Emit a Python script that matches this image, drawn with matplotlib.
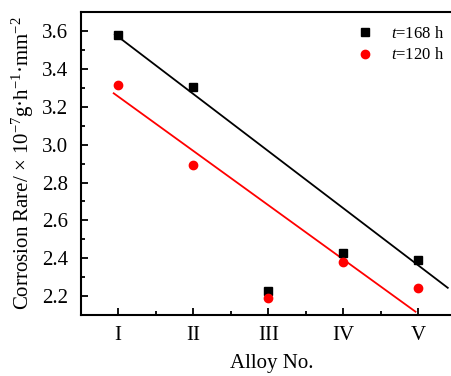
import matplotlib
matplotlib.use("Agg")
import matplotlib.pyplot as plt
from matplotlib.ticker import MultipleLocator

plt.rcParams['font.family'] = ['Liberation Serif', 'DejaVu Serif']
plt.rcParams['mathtext.fontset'] = 'custom'
plt.rcParams['mathtext.rm'] = 'Liberation Serif'
plt.rcParams['mathtext.it'] = 'Liberation Serif:italic'

alloys = [1, 2, 3, 4, 5]
alloy_labels = ['I', 'II', 'III', 'IV', 'V']
rate_168 = [3.577, 3.303, 2.228, 2.428, 2.389]
rate_120 = [3.313, 2.893, 2.192, 2.379, 2.243]
# fitted lines, end points
fit_168_x = [0.955, 5.39]
fit_168_y = [3.583, 2.244]
fit_120_x = [0.94, 4.96]
fit_120_y = [3.271, 2.118]

fig = plt.figure(figsize=(4.52, 3.76), dpi=100)
# right edge of the axes runs past the picture, as in the cropped original
ax = fig.add_axes([0.1785, 0.162, 0.847, 0.806])

ax.plot(fit_168_x, fit_168_y, color='black', lw=1.3)
ax.plot(fit_120_x, fit_120_y, color='red', lw=1.3)
ax.plot(alloys, rate_168, 's', color='black', ms=5.5, label='$t$=168 h')
ax.plot(alloys, rate_120, 'o', color='red', ms=6, label='$t$=120 h')

ax.set_xlim(0.5, 5.6)
ax.set_ylim(2.1, 3.7)
ax.set_xticks(alloys)
ax.set_xticklabels(alloy_labels)
ax.xaxis.set_minor_locator(MultipleLocator(0.5))
ax.yaxis.set_major_locator(MultipleLocator(0.2))
ax.yaxis.set_minor_locator(MultipleLocator(0.1))
ax.yaxis.set_major_formatter(matplotlib.ticker.FormatStrFormatter('%.1f'))
ax.tick_params(which='both', direction='in', labelsize=15, width=1.3)
ax.tick_params(which='major', length=5)
ax.tick_params(which='minor', length=3)
ax.tick_params(axis='x', pad=8)
ax.tick_params(axis='y', pad=9)
for s in ax.spines.values():
    s.set_linewidth(1.5)

ax.set_xlabel('Alloy No.', fontsize=15, labelpad=6)
ax.set_ylabel(r'Corrosion Rare/ × 10$^{-7}$g·h$^{-1}$·mm$^{-2}$', fontsize=15, labelpad=4)

leg = ax.legend(loc='upper left', bbox_to_anchor=(0.672, 1.005), frameon=False,
                fontsize=12, handletextpad=0.8, labelspacing=0.35, handlelength=1.5)

fig.savefig('out.png', dpi=100)
